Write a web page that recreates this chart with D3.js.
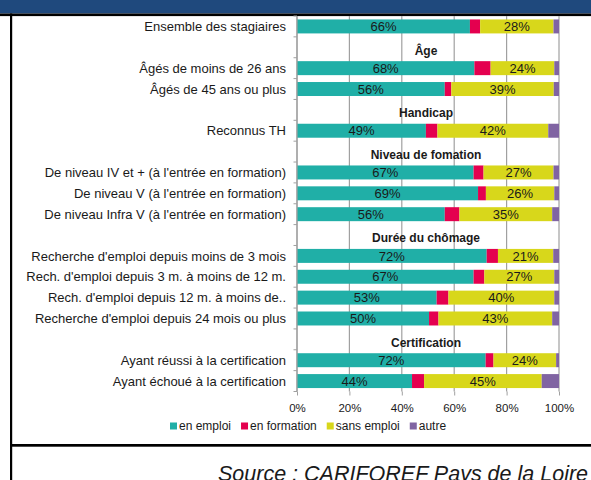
<!DOCTYPE html>
<html>
<head>
<meta charset="utf-8">
<script src="https://cdn.jsdelivr.net/npm/d3@7"></script>
<style>
  body { margin: 0; background: #fff; }
  svg { display: block; font-family: 'Liberation Sans', Arial, sans-serif; }
</style>
</head>
<body>
<div id="chart"></div>
<script>
const width = 591;
const height = 480;

// one entry per row, empty strings are the section title rows
const categories = [
  'Ensemble des stagiaires',
  '',
  'Âgés de moins de 26 ans',
  'Âgés de 45 ans ou plus',
  '',
  'Reconnus TH',
  '',
  'De niveau IV et + (à l\'entrée en formation)',
  'De niveau V (à l\'entrée en formation)',
  'De niveau Infra V (à l\'entrée en formation)',
  '',
  'Recherche d\'emploi depuis moins de 3 mois',
  'Rech. d\'emploi depuis 3 m. à moins de 12 m.',
  'Rech. d\'emploi depuis 12 m. à moins de..',
  'Recherche d\'emploi depuis 24 mois ou plus',
  '',
  'Ayant réussi à la certification',
  'Ayant échoué à la certification'
];

const sectionRows = [1, 4, 6, 10, 15];
const sectionTitles = ['Âge', 'Handicap', 'Niveau de fomation', 'Durée du chômage', 'Certification'];

const enEmploi    = [66.0, null, 67.7, 56.4, null, 49.2, null, 67.4, 69.1, 56.4, null, 72.4, 67.4, 53.3, 50.4, null, 72.0, 43.9];
const enFormation = [3.9,  null, 6.2,  2.5,  null, 4.4,  null, 3.8,  3.0,  5.6,  null, 4.3,  4.1,  4.5,  3.6,  null, 3.0,  4.6];
const sansEmploi  = [28.0, null, 24.3, 39.1, null, 42.3, null, 26.7, 26.1, 35.4, null, 21.1, 26.7, 40.4, 43.4, null, 23.9, 44.9];
const autre       = [2.1,  null, 1.8,  2.0,  null, 4.1,  null, 2.1,  1.8,  2.6,  null, 2.2,  1.8,  1.8,  2.6,  null, 1.1,  6.6];

const seriesNames = ['en emploi', 'en formation', 'sans emploi', 'autre'];
const seriesColors = ['#20afa7', '#e4004f', '#d8d71b', '#8064a2'];
const labelled = [true, false, true, false];

const xTicks = [0, 20, 40, 60, 80, 100];

const rows = categories.map((name, i) => ({
  i, name,
  values: [enEmploi[i], enFormation[i], sansEmploi[i], autre[i]]
}));

const svg = d3.select('#chart').append('svg')
    .attr('width', width)
    .attr('height', height);

svg.append('rect').attr('width', width).attr('height', height).attr('fill', '#fff');

// frame of the slide
svg.append('rect').attr('x', 0).attr('y', 0).attr('width', width).attr('height', 13.5).attr('fill', '#1f497d');
svg.append('rect').attr('x', 0).attr('y', 13.5).attr('width', width).attr('height', 2.6).attr('fill', '#000');
svg.append('rect').attr('x', 10).attr('y', 13.5).attr('width', 2.2).attr('height', height).attr('fill', '#000');
svg.append('rect').attr('x', 10).attr('y', 444).attr('width', width).attr('height', 2.7).attr('fill', '#000');

const x = d3.scaleLinear().domain([0, 100]).range([297, 559]);
const y = d3.scaleBand()
    .domain(d3.range(categories.length))
    .range([16, 391.5])
    .paddingInner(0.33)
    .paddingOuter(0.165);

// gridlines
svg.append('g')
  .selectAll('line')
  .data(xTicks)
  .join('line')
    .attr('x1', d => x(d)).attr('x2', d => x(d))
    .attr('y1', 16).attr('y2', 391.5)
    .attr('stroke', '#a0a0a0')
    .attr('stroke-width', 1.2);

// category ticks on the left
const step = y.step();
svg.append('g')
  .selectAll('line')
  .data(d3.range(categories.length + 1))
  .join('line')
    .attr('x1', x(0) - 3.5).attr('x2', x(0))
    .attr('y1', d => 16 + d * step).attr('y2', d => 16 + d * step)
    .attr('stroke', '#a0a0a0');

// stacked bars
const stacked = rows.filter(r => r.values[0] !== null).map(r => {
  let acc = 0;
  return r.values.map((v, k) => {
    const seg = { i: r.i, k, v, x0: acc, x1: acc + v };
    acc += v;
    return seg;
  });
}).flat();

svg.append('g')
  .selectAll('rect')
  .data(stacked)
  .join('rect')
    .attr('x', d => x(d.x0))
    .attr('y', d => y(d.i))
    .attr('width', d => x(d.x1) - x(d.x0))
    .attr('height', y.bandwidth())
    .attr('fill', d => seriesColors[d.k]);

svg.append('g')
    .attr('font-size', 13)
    .attr('fill', '#1a1a1a')
    .attr('text-anchor', 'middle')
  .selectAll('text')
  .data(stacked.filter(d => labelled[d.k]))
  .join('text')
    .attr('x', d => x((d.x0 + d.x1) / 2))
    .attr('y', d => y(d.i) + y.bandwidth() / 2)
    .attr('dy', '0.36em')
    .text(d => `${Math.round(d.v)}%`);

// left axis line
svg.append('line')
    .attr('x1', x(0)).attr('x2', x(0))
    .attr('y1', 16).attr('y2', 391.5)
    .attr('stroke', '#a0a0a0')
    .attr('stroke-width', 1.2);

// category labels
svg.append('g')
    .attr('font-size', 13)
    .attr('fill', '#1a1a1a')
    .attr('text-anchor', 'end')
  .selectAll('text')
  .data(rows.filter(r => r.name))
  .join('text')
    .attr('x', 286)
    .attr('y', d => y(d.i) + y.bandwidth() / 2)
    .attr('dy', '0.36em')
    .text(d => d.name);

// section titles
svg.append('g')
    .attr('font-size', 12)
    .attr('font-weight', 'bold')
    .attr('fill', '#1a1a1a')
    .attr('text-anchor', 'middle')
  .selectAll('text')
  .data(sectionRows)
  .join('text')
    .attr('x', 426)
    .attr('y', d => y(d) + y.bandwidth() / 2 + 3)
    .attr('dy', '0.36em')
    .text((d, k) => sectionTitles[k]);

// x axis
const xAxis = svg.append('g')
    .attr('transform', 'translate(0,391.5)')
    .call(d3.axisBottom(x).tickValues(xTicks).tickSize(4).tickPadding(8).tickFormat(d => d + '%'));
xAxis.select('.domain').remove();
xAxis.selectAll('line').attr('stroke', '#a0a0a0');
xAxis.selectAll('text')
    .attr('font-family', "'Liberation Sans', Arial, sans-serif")
    .attr('font-size', 11.5)
    .attr('fill', '#1a1a1a');

// legend
const legend = svg.append('g')
    .attr('font-size', 12)
    .attr('fill', '#1a1a1a');
let lx = 170;
seriesNames.forEach((name, k) => {
  legend.append('rect')
      .attr('x', lx).attr('y', 422.5)
      .attr('width', 7).attr('height', 7)
      .attr('fill', seriesColors[k]);
  const t = legend.append('text')
      .attr('x', lx + 9).attr('y', 426)
      .attr('dy', '0.36em')
      .text(name);
  lx += 9 + t.node().getComputedTextLength() + 10;
});

// source
svg.append('text')
    .attr('x', 218)
    .attr('y', 481)
    .attr('font-size', 21.5)
    .attr('font-style', 'italic')
    .attr('fill', '#1a1a1a')
    .text('Source : CARIFOREF Pays de la Loire');
</script>
</body>
</html>
